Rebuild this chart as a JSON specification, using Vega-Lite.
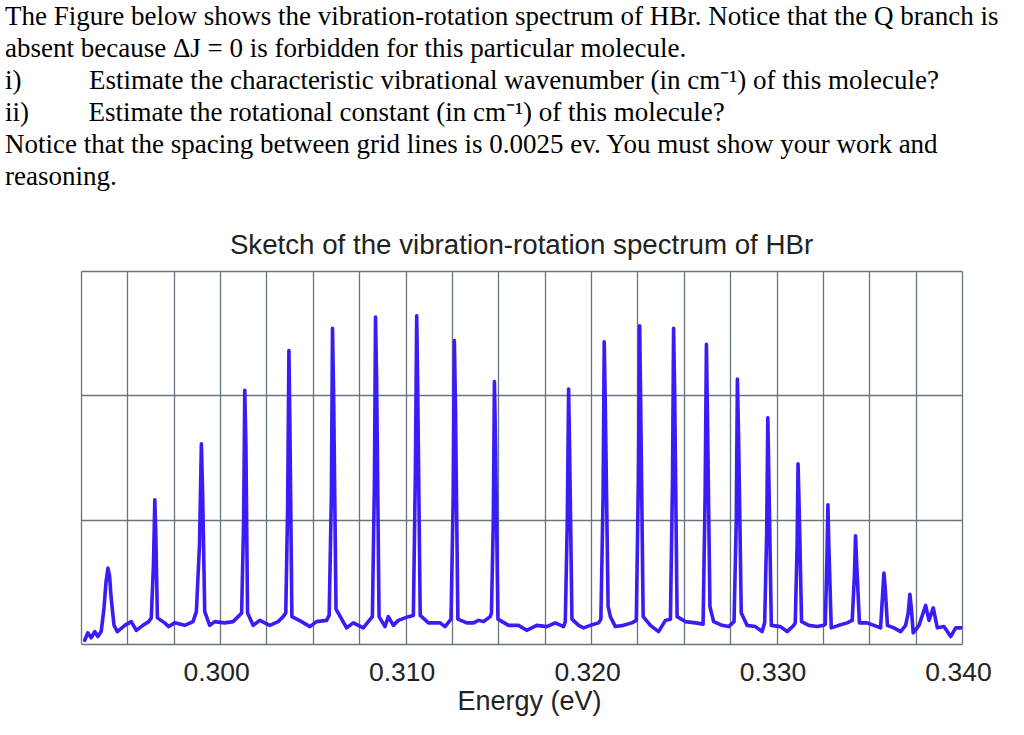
{
  "$schema": "https://vega.github.io/schema/vega-lite/v6.json",
  "padding": {"left": 5, "top": 3, "right": 5, "bottom": 5},
  "title": {
    "text": [
      "The Figure below shows the vibration-rotation spectrum of HBr. Notice that the Q branch is",
      "absent because ΔJ = 0 is forbidden for this particular molecule.",
      "i)\u2003\u2003\u2002Estimate the characteristic vibrational wavenumber (in cm⁻¹) of this molecule?",
      "ii)\u2003\u2003\u2009Estimate the rotational constant (in cm⁻¹) of this molecule?",
      "Notice that the spacing between grid lines is 0.0025 ev. You must show your work and",
      "reasoning."
    ],
    "anchor": "start",
    "font": "Liberation Serif",
    "fontSize": 27,
    "fontWeight": "normal",
    "lineHeight": 32,
    "color": "#000000",
    "dx": -72,
    "offset": 41
  },
  "vconcat": [
    {
      "width": 881,
      "height": 373,
      "title": {
        "text": "Sketch of the vibration-rotation spectrum of HBr",
        "font": "Liberation Sans",
        "fontSize": 27.7,
        "fontWeight": "normal",
        "color": "#222222",
        "anchor": "middle",
        "offset": 11
      },
      "data": {
        "values": [
          {"e": 0.29270, "v": 0.03}, {"e": 0.29287, "v": 0.09}, {"e": 0.29305, "v": 0.05}, {"e": 0.29324, "v": 0.10},
          {"e": 0.29341, "v": 0.06}, {"e": 0.29359, "v": 0.10},
          {"e": 0.29374, "v": 0.29}, {"e": 0.29385, "v": 0.50}, {"e": 0.29395, "v": 0.61}, {"e": 0.29404, "v": 0.55},
          {"e": 0.29412, "v": 0.38}, {"e": 0.29428, "v": 0.15}, {"e": 0.29446, "v": 0.10},
          {"e": 0.29486, "v": 0.15}, {"e": 0.29521, "v": 0.18}, {"e": 0.29548, "v": 0.11}, {"e": 0.29584, "v": 0.15},
          {"e": 0.29615, "v": 0.18},
          {"e": 0.29629, "v": 0.21}, {"e": 0.29641, "v": 0.65}, {"e": 0.29648, "v": 1.16}, {"e": 0.29653, "v": 0.90},
          {"e": 0.29662, "v": 0.21},
          {"e": 0.29701, "v": 0.17}, {"e": 0.29723, "v": 0.14}, {"e": 0.29755, "v": 0.17}, {"e": 0.29809, "v": 0.15},
          {"e": 0.29854, "v": 0.18},
          {"e": 0.29872, "v": 0.26}, {"e": 0.29889, "v": 0.80}, {"e": 0.29899, "v": 1.61}, {"e": 0.29906, "v": 1.20},
          {"e": 0.29917, "v": 0.26},
          {"e": 0.29944, "v": 0.15}, {"e": 0.29971, "v": 0.18}, {"e": 0.30025, "v": 0.17}, {"e": 0.30070, "v": 0.18},
          {"e": 0.30097, "v": 0.22},
          {"e": 0.30116, "v": 0.25}, {"e": 0.30127, "v": 1.00}, {"e": 0.30133, "v": 2.04}, {"e": 0.30139, "v": 1.60},
          {"e": 0.30148, "v": 0.25},
          {"e": 0.30178, "v": 0.15}, {"e": 0.30214, "v": 0.19}, {"e": 0.30268, "v": 0.15}, {"e": 0.30313, "v": 0.18},
          {"e": 0.30340, "v": 0.22},
          {"e": 0.30354, "v": 0.25}, {"e": 0.30364, "v": 1.10}, {"e": 0.30371, "v": 2.36}, {"e": 0.30376, "v": 1.80},
          {"e": 0.30387, "v": 0.22},
          {"e": 0.30439, "v": 0.18}, {"e": 0.30484, "v": 0.14}, {"e": 0.30520, "v": 0.18}, {"e": 0.30574, "v": 0.19},
          {"e": 0.30588, "v": 0.23}, {"e": 0.30600, "v": 1.20}, {"e": 0.30606, "v": 2.54}, {"e": 0.30612, "v": 2.00},
          {"e": 0.30625, "v": 0.28},
          {"e": 0.30682, "v": 0.13}, {"e": 0.30718, "v": 0.17}, {"e": 0.30772, "v": 0.13}, {"e": 0.30799, "v": 0.18},
          {"e": 0.30821, "v": 0.22}, {"e": 0.30832, "v": 1.30}, {"e": 0.30838, "v": 2.63}, {"e": 0.30844, "v": 2.10},
          {"e": 0.30857, "v": 0.22},
          {"e": 0.30889, "v": 0.14}, {"e": 0.30907, "v": 0.22}, {"e": 0.30934, "v": 0.15}, {"e": 0.30961, "v": 0.19},
          {"e": 0.31015, "v": 0.22},
          {"e": 0.31042, "v": 0.23}, {"e": 0.31053, "v": 1.40}, {"e": 0.31060, "v": 2.64}, {"e": 0.31065, "v": 2.10},
          {"e": 0.31079, "v": 0.23},
          {"e": 0.31123, "v": 0.17}, {"e": 0.31186, "v": 0.17}, {"e": 0.31213, "v": 0.14},
          {"e": 0.31245, "v": 0.20}, {"e": 0.31257, "v": 1.20}, {"e": 0.31263, "v": 2.44}, {"e": 0.31269, "v": 1.90},
          {"e": 0.31282, "v": 0.20},
          {"e": 0.31330, "v": 0.17}, {"e": 0.31366, "v": 0.17}, {"e": 0.31393, "v": 0.19}, {"e": 0.31420, "v": 0.18},
          {"e": 0.31456, "v": 0.22},
          {"e": 0.31463, "v": 0.25}, {"e": 0.31473, "v": 1.00}, {"e": 0.31479, "v": 2.11}, {"e": 0.31485, "v": 1.60},
          {"e": 0.31498, "v": 0.20},
          {"e": 0.31555, "v": 0.15}, {"e": 0.31609, "v": 0.15}, {"e": 0.31653, "v": 0.11}, {"e": 0.31707, "v": 0.15},
          {"e": 0.31761, "v": 0.14}, {"e": 0.31807, "v": 0.17}, {"e": 0.31852, "v": 0.14},
          {"e": 0.31861, "v": 0.18}, {"e": 0.31872, "v": 1.00}, {"e": 0.31879, "v": 2.05}, {"e": 0.31884, "v": 1.60},
          {"e": 0.31897, "v": 0.20},
          {"e": 0.31933, "v": 0.15}, {"e": 0.31960, "v": 0.13}, {"e": 0.31996, "v": 0.15}, {"e": 0.32041, "v": 0.17},
          {"e": 0.32053, "v": 0.20}, {"e": 0.32065, "v": 1.20}, {"e": 0.32071, "v": 2.43}, {"e": 0.32077, "v": 1.90},
          {"e": 0.32092, "v": 0.30}, {"e": 0.32104, "v": 0.22},
          {"e": 0.32131, "v": 0.14}, {"e": 0.32175, "v": 0.15}, {"e": 0.32220, "v": 0.17},
          {"e": 0.32244, "v": 0.19}, {"e": 0.32255, "v": 1.30}, {"e": 0.32262, "v": 2.56}, {"e": 0.32267, "v": 2.00},
          {"e": 0.32281, "v": 0.22},
          {"e": 0.32320, "v": 0.15}, {"e": 0.32364, "v": 0.10}, {"e": 0.32401, "v": 0.19},
          {"e": 0.32428, "v": 0.20}, {"e": 0.32439, "v": 1.30}, {"e": 0.32445, "v": 2.54}, {"e": 0.32451, "v": 2.00},
          {"e": 0.32464, "v": 0.22},
          {"e": 0.32509, "v": 0.18}, {"e": 0.32563, "v": 0.17},
          {"e": 0.32604, "v": 0.16}, {"e": 0.32615, "v": 1.20}, {"e": 0.32622, "v": 2.41}, {"e": 0.32627, "v": 1.90},
          {"e": 0.32641, "v": 0.30},
          {"e": 0.32661, "v": 0.18}, {"e": 0.32706, "v": 0.15}, {"e": 0.32742, "v": 0.14},
          {"e": 0.32771, "v": 0.18}, {"e": 0.32783, "v": 1.00}, {"e": 0.32789, "v": 2.13}, {"e": 0.32795, "v": 1.70},
          {"e": 0.32810, "v": 0.25},
          {"e": 0.32841, "v": 0.15}, {"e": 0.32886, "v": 0.14}, {"e": 0.32922, "v": 0.10},
          {"e": 0.32936, "v": 0.17}, {"e": 0.32947, "v": 0.90}, {"e": 0.32953, "v": 1.82}, {"e": 0.32958, "v": 1.40},
          {"e": 0.32972, "v": 0.15},
          {"e": 0.33021, "v": 0.14}, {"e": 0.33057, "v": 0.10}, {"e": 0.33093, "v": 0.15},
          {"e": 0.33101, "v": 0.17}, {"e": 0.33111, "v": 0.80}, {"e": 0.33116, "v": 1.45}, {"e": 0.33122, "v": 1.10},
          {"e": 0.33135, "v": 0.18},
          {"e": 0.33174, "v": 0.15}, {"e": 0.33219, "v": 0.14}, {"e": 0.33255, "v": 0.15},
          {"e": 0.33263, "v": 0.16}, {"e": 0.33272, "v": 0.70}, {"e": 0.33277, "v": 1.12}, {"e": 0.33282, "v": 0.80},
          {"e": 0.33295, "v": 0.13},
          {"e": 0.33336, "v": 0.15}, {"e": 0.33381, "v": 0.17},
          {"e": 0.33408, "v": 0.19}, {"e": 0.33420, "v": 0.55}, {"e": 0.33426, "v": 0.87}, {"e": 0.33432, "v": 0.65},
          {"e": 0.33447, "v": 0.17},
          {"e": 0.33489, "v": 0.17}, {"e": 0.33525, "v": 0.15}, {"e": 0.33561, "v": 0.13},
          {"e": 0.33568, "v": 0.30}, {"e": 0.33579, "v": 0.57}, {"e": 0.33586, "v": 0.45}, {"e": 0.33598, "v": 0.15},
          {"e": 0.33633, "v": 0.13}, {"e": 0.33669, "v": 0.10}, {"e": 0.33696, "v": 0.15},
          {"e": 0.33710, "v": 0.25}, {"e": 0.33719, "v": 0.40}, {"e": 0.33726, "v": 0.30}, {"e": 0.33737, "v": 0.09},
          {"e": 0.33768, "v": 0.15}, {"e": 0.33804, "v": 0.31}, {"e": 0.33822, "v": 0.19}, {"e": 0.33845, "v": 0.29},
          {"e": 0.33867, "v": 0.13}, {"e": 0.33903, "v": 0.14}, {"e": 0.33939, "v": 0.06}, {"e": 0.33966, "v": 0.13},
          {"e": 0.33993, "v": 0.13}
        ]
      },
      "mark": {"type": "line", "color": "#3a1cf6", "strokeWidth": 3.6, "strokeJoin": "round", "strokeCap": "round"},
      "encoding": {
        "x": {
          "field": "e",
          "type": "quantitative",
          "title": "Energy (eV)",
          "scale": {"domain": [0.2925, 0.34], "nice": false, "zero": false},
          "axis": {
            "values": [0.2925, 0.295, 0.2975, 0.3, 0.3025, 0.305, 0.3075, 0.31, 0.3125, 0.315, 0.3175, 0.32, 0.3225, 0.325, 0.3275, 0.33, 0.3325, 0.335, 0.3375, 0.34],
            "labelExpr": "(round(datum.value * 1000) % 10 == 0) ? format(datum.value, '.3f') : ''",
            "grid": true,
            "gridColor": "#66767f",
            "gridWidth": 1.3,
            "gridOpacity": 1,
            "ticks": false,
            "domain": false,
            "labelFont": "Liberation Sans",
            "labelFontSize": 26.5,
            "labelColor": "#222222",
            "labelPadding": 15,
            "labelOffset": -4,
            "labelFlush": false,
            "labelOverlap": false,
            "titleFont": "Liberation Sans",
            "titleFontSize": 27,
            "titleFontWeight": "normal",
            "titleColor": "#222222",
            "titlePadding": 3,
            "titleX": 448
          }
        },
        "y": {
          "field": "v",
          "type": "quantitative",
          "scale": {"domain": [0, 3], "nice": false, "zero": true},
          "axis": {
            "values": [0, 1, 2, 3],
            "grid": true,
            "gridColor": "#66767f",
            "gridWidth": 1.3,
            "gridOpacity": 1,
            "labels": false,
            "ticks": false,
            "domain": false,
            "title": null
          }
        }
      }
    }
  ],
  "config": {
    "view": {"stroke": null},
    "background": "#ffffff"
  }
}
